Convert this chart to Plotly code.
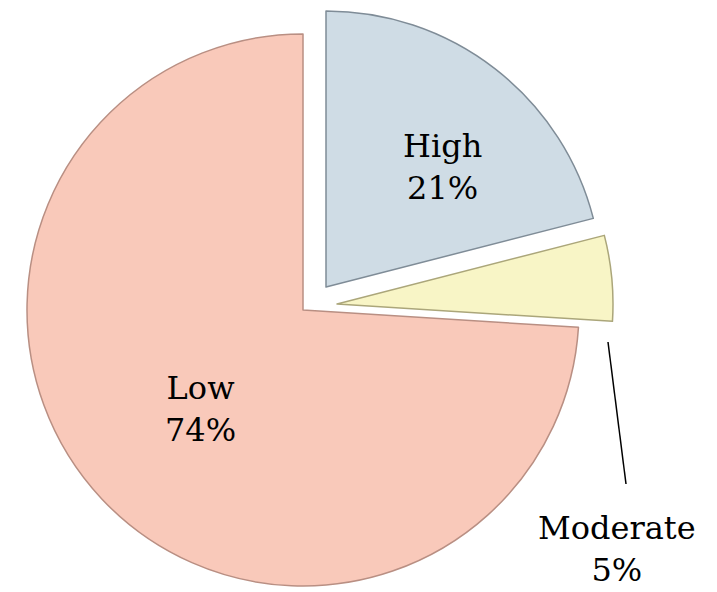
import plotly.graph_objects as go

# ---- data ----
labels = ["High", "Moderate", "Low"]
values = [21, 5, 74]
colors = ["#CFDCE5", "#F8F5C6", "#F9C9BA"]
edge_colors = ["#7F8C97", "#ABA67A", "#B98F83"]

# ---- layout geometry (screen pixels of the 717x592 window) ----
OFF = 8                     # default page body margin
W, H = 717 - OFF, 592 - OFF  # figure size so that it ends at the window edge
R = 276
# apex position of each slice (pulled-out slices have a shifted apex)
apex = {"High": (326, 287), "Moderate": (337, 304), "Low": (303, 310)}
# label centres
label_pos = {"High": (442, 167), "Moderate": (617, 549), "Low": (200, 409)}

FONT = "DejaVu Serif"


def px(sx):
    return (sx - OFF) / W


def py(sy):
    return 1 - (sy - OFF) / H


fig = go.Figure()
for i, lab in enumerate(labels):
    cx, cy = apex[lab]
    dom_x = [px(cx - R), px(cx + R)]
    dom_y = [py(cy + R), py(cy - R)]
    fill = [colors[j] if j == i else "rgba(0,0,0,0)" for j in range(len(labels))]
    lcol = [edge_colors[j] if j == i else "rgba(0,0,0,0)" for j in range(len(labels))]
    lw = [1.5 if j == i else 0 for j in range(len(labels))]
    fig.add_trace(go.Pie(
        labels=labels,
        values=values,
        sort=False,
        direction="clockwise",
        rotation=0,
        domain=dict(x=dom_x, y=dom_y),
        marker=dict(colors=fill, line=dict(color=lcol, width=lw)),
        textinfo="none",
        hoverinfo="skip",
        showlegend=False,
    ))

# labels
for lab, val in zip(labels, values):
    sx, sy = label_pos[lab]
    fig.add_annotation(xref="paper", yref="paper", x=px(sx), y=py(sy),
                       text=f"{lab}<br>{val}%", showarrow=False,
                       xanchor="center", yanchor="middle",
                       font=dict(family=FONT, size=32, color="black"))

# leader line for the Moderate label
fig.add_shape(type="line", xref="paper", yref="paper",
              x0=px(608), y0=py(342), x1=px(626), y1=py(484),
              line=dict(color="black", width=1.5))

fig.update_layout(width=W, height=H, margin=dict(l=0, r=0, t=0, b=0),
                  paper_bgcolor="white", plot_bgcolor="white", showlegend=False)

fig.write_html("out.html")
